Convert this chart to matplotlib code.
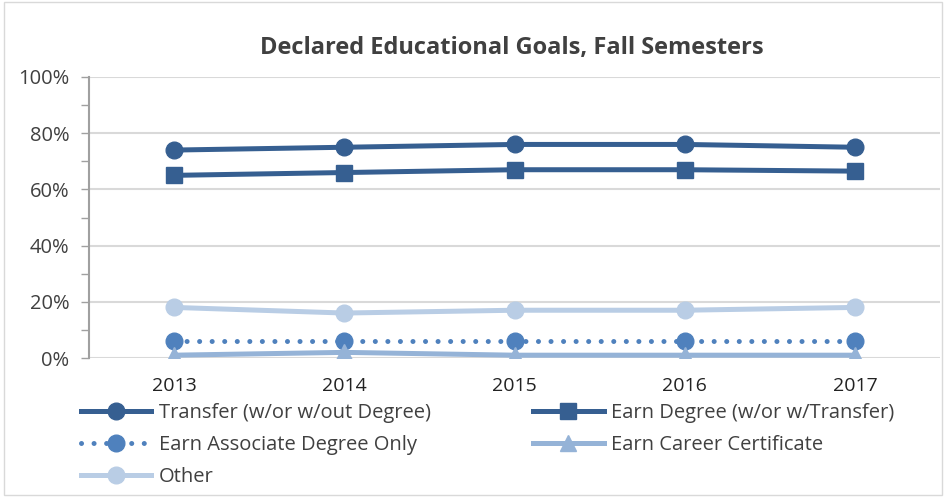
import matplotlib.pyplot as plt
import matplotlib.patches as mpatches
from matplotlib.ticker import MultipleLocator, PercentFormatter

# data
years = ["2013", "2014", "2015", "2016", "2017"]
transfer = [74, 75, 76, 76, 75]
earn_degree = [65, 66, 67, 67, 66.5]
associate = [6, 6, 6, 6, 6]
certificate = [1, 2, 1, 1, 1]
other = [18, 16, 17, 17, 18]

plt.rcParams['font.family'] = ['Open Sans', 'DejaVu Sans']

fig = plt.figure(figsize=(9.46, 4.97), dpi=100)
ax = fig.add_axes([89 / 946, 1 - 358 / 497, (940 - 89) / 946, (358 - 77) / 497])

x = range(len(years))
dark = "#365f91"
lw, ms = 3.6, 12
h1, = ax.plot(x, transfer, color=dark, lw=lw, marker="o", ms=ms, label="Transfer (w/or w/out Degree)")
h2, = ax.plot(x, earn_degree, color=dark, lw=lw, marker="s", ms=ms, label="Earn Degree (w/or w/Transfer)")
h3, = ax.plot(x, associate, color="#4f81bd", lw=lw, ls=(0, (0.01, 2.5)), dash_capstyle="round",
              marker="o", ms=ms, label="Earn Associate Degree Only")
h4, = ax.plot(x, certificate, color="#95b3d7", lw=lw, marker="^", ms=ms, label="Earn Career Certificate")
h5, = ax.plot(x, other, color="#b9cde5", lw=lw, marker="o", ms=ms, label="Other")

ax.set_xlim(-0.5, 4.5)
ax.set_ylim(0, 100)
ax.set_xticks(list(x))
ax.set_xticklabels(years, fontsize=14, color="#222222")
ax.yaxis.set_major_locator(MultipleLocator(20))
ax.yaxis.set_minor_locator(MultipleLocator(10))
ax.yaxis.set_major_formatter(PercentFormatter(decimals=0))
ax.tick_params(axis="y", which="both", direction="out", length=6, width=1,
               color="#a0a0a0", labelsize=14.5, labelcolor="#404040", pad=8)
ax.tick_params(axis="x", length=0, pad=14)
ax.grid(axis="y", color="#d9d9d9", lw=1.5)
ax.set_axisbelow(True)
for s in ["top", "right", "bottom"]:
    ax.spines[s].set_visible(False)
ax.spines["left"].set_color("#a0a0a0")
ax.spines["left"].set_linewidth(1.5)

fig.text(512 / 946, 1 - 48 / 497, "Declared Educational Goals, Fall Semesters",
         ha="center", va="center", fontsize=17, fontweight="bold", color="#404040")

# column-first fill, so order gives row-wise layout like the original
handles = [h1, h3, h5, h2, h4]
leg = fig.legend(handles=handles, labels=[h.get_label() for h in handles],
                 loc="upper left", bbox_to_anchor=(81 / 946, 1 - 403 / 497), ncol=2,
                 frameon=False, fontsize=14.5, handlelength=3.5, handletextpad=0.35,
                 columnspacing=5.1, labelspacing=0.6, borderpad=0, borderaxespad=0)
for t in leg.get_texts():
    t.set_color("#404040")

fig.patches.append(mpatches.Rectangle((0.004, 0.004), 0.992, 0.992, transform=fig.transFigure,
                                      fill=False, ec="#d9d9d9", lw=1))

fig.savefig("out.png", dpi=100)
plt.close()
